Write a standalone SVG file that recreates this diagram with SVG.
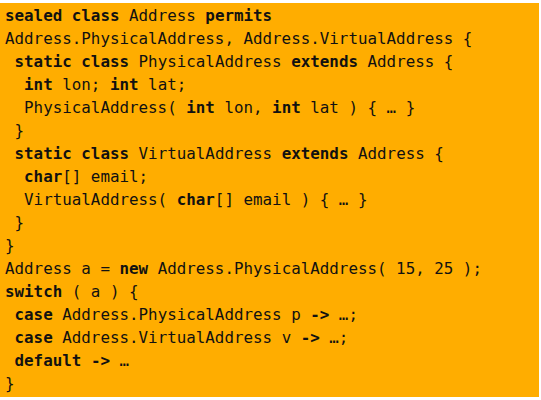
<svg xmlns="http://www.w3.org/2000/svg" width="541" height="400" viewBox="0 0 541 400">
<style>
.code{font-family:"DejaVu Sans Mono","Liberation Mono",monospace;font-size:15.85px;fill:#111;white-space:pre}
.k{font-weight:bold}
</style>
<rect width="541" height="400" fill="#ffffff"/>
<g id="code-block">
<rect x="0" y="3" width="539" height="394" fill="#FFAD00"/>
<text class="code" xml:space="preserve">
<tspan x="5" y="21"><tspan class="k">sealed</tspan> <tspan class="k">class</tspan> Address <tspan class="k">permits</tspan></tspan>
<tspan x="5" y="44">Address.PhysicalAddress, Address.VirtualAddress {</tspan>
<tspan x="5" y="67"> <tspan class="k">static</tspan> <tspan class="k">class</tspan> PhysicalAddress <tspan class="k">extends</tspan> Address {</tspan>
<tspan x="5" y="90">  <tspan class="k">int</tspan> lon; <tspan class="k">int</tspan> lat;</tspan>
<tspan x="5" y="113">  PhysicalAddress( <tspan class="k">int</tspan> lon, <tspan class="k">int</tspan> lat ) { … }</tspan>
<tspan x="5" y="136"> }</tspan>
<tspan x="5" y="159"> <tspan class="k">static</tspan> <tspan class="k">class</tspan> VirtualAddress <tspan class="k">extends</tspan> Address {</tspan>
<tspan x="5" y="182">  <tspan class="k">char</tspan>[] email;</tspan>
<tspan x="5" y="205">  VirtualAddress( <tspan class="k">char</tspan>[] email ) { … }</tspan>
<tspan x="5" y="228"> }</tspan>
<tspan x="5" y="251">}</tspan>
<tspan x="5" y="274">Address a = <tspan class="k">new</tspan> Address.PhysicalAddress( 15, 25 );</tspan>
<tspan x="5" y="297"><tspan class="k">switch</tspan> ( a ) {</tspan>
<tspan x="5" y="320"> <tspan class="k">case</tspan> Address.PhysicalAddress p <tspan class="k">-&gt;</tspan> …;</tspan>
<tspan x="5" y="343"> <tspan class="k">case</tspan> Address.VirtualAddress v <tspan class="k">-&gt;</tspan> …;</tspan>
<tspan x="5" y="366"> <tspan class="k">default</tspan> <tspan class="k">-&gt;</tspan> …</tspan>
<tspan x="5" y="389">}</tspan>
</text>
</g>
</svg>
